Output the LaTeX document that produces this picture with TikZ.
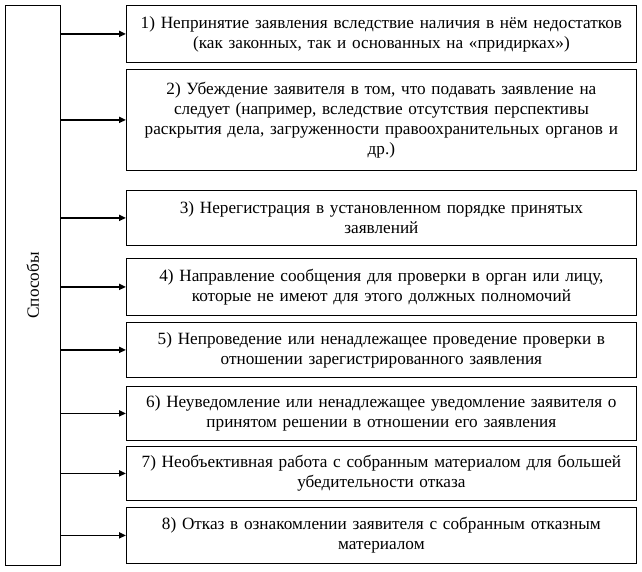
\documentclass[tikz,border=0pt]{standalone}
\usepackage{fontspec}
\setmainfont{Liberation Serif}
\usetikzlibrary{arrows.meta}
\begin{document}
\begin{tikzpicture}[x=1pt,y=-1pt,
  bx/.style={draw,line width=0.8pt,minimum width=510pt,text width=505pt,align=center,font=\fontsize{17.2}{20}\selectfont,anchor=north west,inner sep=0pt},
  arr/.style={-{Triangle[length=7pt,width=6pt]},line width=1.8pt}]
\useasboundingbox (0,0) rectangle (642,571);
\node[draw,line width=0.8pt,minimum width=55pt,minimum height=560pt,anchor=north west,inner sep=0pt] (L) at (5,5) {};
\node[rotate=90,font=\fontsize{17.2}{20}\selectfont] at (L.center) {Способы};
\node[bx,minimum height=57pt] (b1) at (126,5) {1) Непринятие заявления вследствие наличия в нём недостатков\\(как законных, так и основанных на «придирках»)};
\node[bx,minimum height=101pt] (b2) at (126,69) {2) Убеждение заявителя в том, что подавать заявление на\\следует (например, вследствие отсутствия перспективы\\раскрытия дела, загруженности правоохранительных органов и\\др.)};
\node[bx,minimum height=55pt] (b3) at (126,190) {3) Нерегистрация в установленном порядке принятых\\заявлений};
\node[bx,minimum height=57pt] (b4) at (126,258) {4) Направление сообщения для проверки в орган или лицу,\\которые не имеют для этого должных полномочий};
\node[bx,minimum height=55pt] (b5) at (126,322) {5) Непроведение или ненадлежащее проведение проверки в\\отношении зарегистрированного заявления};
\node[bx,minimum height=54pt] (b6) at (126,386) {6) Неуведомление или ненадлежащее уведомление заявителя о\\принятом решении в отношении его заявления};
\node[bx,minimum height=54pt] (b7) at (126,446) {7) Необъективная работа с собранным материалом для большей\\убедительности отказа};
\node[bx,minimum height=56pt] (b8) at (126,507) {8) Отказ в ознакомлении заявителя с собранным отказным\\материалом};
\foreach \b in {b1,b2,b3,b4,b5,b6,b7,b8}
  \draw[arr] (L.east |- \b.west) -- (\b.west);
\end{tikzpicture}
\end{document}
